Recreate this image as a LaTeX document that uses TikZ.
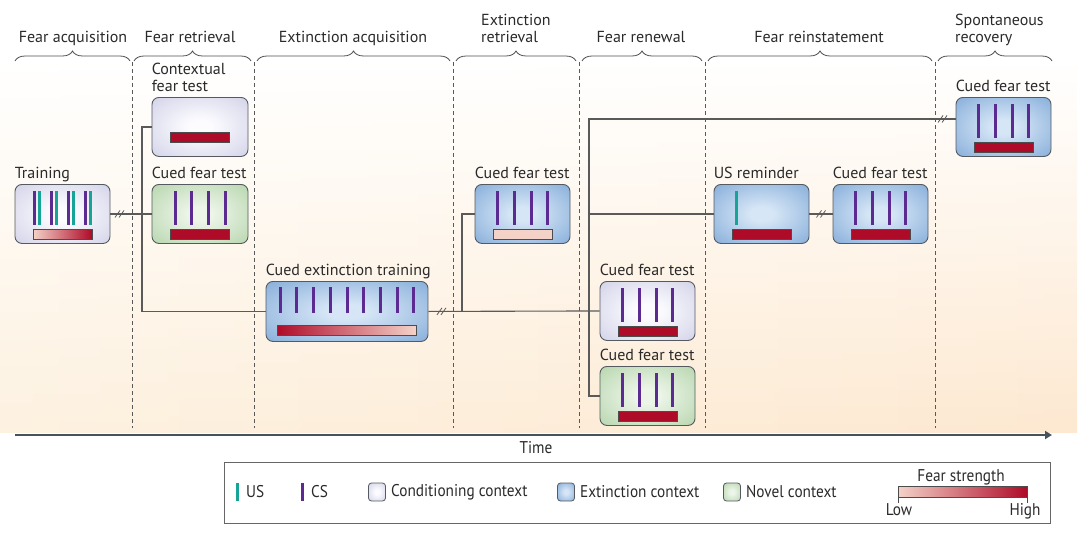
\documentclass[tikz,border=0pt]{standalone}
\usepackage{fontspec}
\setmainfont{PT Sans}
\newfontfamily\condfont[FakeStretch=0.9]{PT Sans}
\usetikzlibrary{calc,decorations.pathreplacing,fadings,arrows.meta}

\definecolor{condout}{HTML}{CDCDE6}
\definecolor{condin}{HTML}{FCFCFF}
\definecolor{extout}{HTML}{7CA6D6}
\definecolor{extin}{HTML}{D6E6F6}
\definecolor{novout}{HTML}{B0D2A6}
\definecolor{novin}{HTML}{EDF5E9}
\definecolor{cspurple}{HTML}{5B2B92}
\definecolor{usteal}{HTML}{17A497}
\definecolor{feardark}{HTML}{AE0B28}
\definecolor{fearlight}{HTML}{F4D2C8}
\definecolor{linegray}{HTML}{5A5A5A}
\definecolor{boxborder}{HTML}{555A60}
\definecolor{axisblue}{HTML}{46535E}
\definecolor{bgcream}{HTML}{FDF1E0}
\definecolor{bgmid}{HTML}{FFFCF8}
\definecolor{bgpeach}{HTML}{FDE8D0}
\definecolor{txt}{HTML}{2A2A2A}

\pgfdeclareradialshading{condsh}{\pgfpointorigin}{color(0bp)=(condin); color(6bp)=(condin); color(40bp)=(condout); color(100bp)=(condout)}
\pgfdeclareradialshading{extsh}{\pgfpointorigin}{color(0bp)=(extin); color(6bp)=(extin); color(40bp)=(extout); color(100bp)=(extout)}
\pgfdeclareradialshading{novsh}{\pgfpointorigin}{color(0bp)=(novin); color(6bp)=(novin); color(40bp)=(novout); color(100bp)=(novout)}

\tikzfading[name=fadetop, top color=transparent!100, middle color=transparent!25, bottom color=transparent!0]

\tikzset{
  ctxbox/.style={draw=boxborder, line width=0.9pt, rounded corners=7pt,
    minimum width=95pt, minimum height=59pt, anchor=north, inner sep=0pt, shade},
  cond/.style={ctxbox, shading=condsh},
  extc/.style={ctxbox, shading=extsh},
  novc/.style={ctxbox, shading=novsh},
  swatch/.style={draw=boxborder, line width=0.8pt, rounded corners=3pt,
    minimum width=17pt, minimum height=18pt, inner sep=0pt, shade},
  csline/.style={draw=cspurple, line width=3pt},
  usline/.style={draw=usteal, line width=3pt},
  fbar/.style={draw=black!70, line width=0.6pt},
  link/.style={draw=linegray, line width=1.1pt},
  lbl/.style={font=\fontsize{16}{17}\selectfont, text=txt, inner sep=0pt},
  leg/.style={font=\condfont\fontsize{17}{18}\selectfont, text=txt, inner sep=0pt},
  divider/.style={draw=black!65, line width=0.7pt, dash pattern=on 4pt off 3pt},
  bracestyle/.style={draw=black!70, line width=0.8pt,
    decorate, decoration={brace, amplitude=10pt, aspect=0.5}},
  brk/.pic={\draw[linegray, line width=0.8pt] (-4.5,3.5)--(0.5,-3.5) (-0.5,3.5)--(4.5,-3.5);}
}

% four CS stripes and fear bar relative to box north
\newcommand\fourcs[1]{%
  \foreach \dx in {-25,-8.5,8.5,25}
    \draw[csline] ($(#1.north)+(\dx,7)$) -- ($(#1.north)+(\dx,41)$);}
\newcommand\darkbar[1]{%
  \draw[fbar, fill=feardark] ($(#1.north)+(-29.5,45)$) rectangle ($(#1.north)+(29.5,55)$);}

\begin{document}
\begin{tikzpicture}[x=1pt,y=-1pt]
\useasboundingbox (0,0) rectangle (1080,546);

% background
\shade[left color=bgcream, middle color=bgmid, right color=bgpeach, path fading=fadetop]
  (0,58) rectangle (1080,432);

% dividers
\foreach \x in {132,254,453,579,705,935}
  \draw[divider] (\x,62) -- (\x,428);

% braces and phase labels
\draw[bracestyle] (15,61) -- (130,61);
\draw[bracestyle] (134,61) -- (251,61);
\draw[bracestyle] (257,61) -- (450,61);
\draw[bracestyle] (456,61) -- (576,61);
\draw[bracestyle] (582,61) -- (702,61);
\draw[bracestyle] (708,61) -- (932,61);
\draw[bracestyle] (938,61) -- (1052,61);

\node[lbl, anchor=base] (p1) at (73,42) {Fear acquisition};
\node[lbl, anchor=base] (p2) at (190,42) {Fear retrieval};
\node[lbl, anchor=base] (p3) at (353,42) {Extinction acquisition};
\node[lbl, anchor=base west, align=left] (p4) at (481,42) {Extinction\\retrieval};
\node[lbl, anchor=base] (p5) at (641,42) {Fear renewal};
\node[lbl, anchor=base] (p6) at (819,42) {Fear reinstatement};
\node[lbl, anchor=base west, align=left] (p7) at (955,42) {Spontaneous\\recovery};

% boxes
\node[cond] (train) at (62.5,184) {};
\node[cond, minimum width=96pt] (ctx) at (200,97) {};
\node[novc, minimum width=96pt] (rgreen) at (200,184) {};
\node[extc, minimum width=162pt, minimum height=60pt] (ext) at (347,281) {};
\node[extc] (eretr) at (522.5,184) {};
\node[cond] (rcond) at (647.5,281) {};
\node[novc] (rnov) at (647.5,366) {};
\node[extc] (usr) at (761.5,184) {};
\node[extc] (reins) at (880.5,184) {};
\node[extc] (spont) at (1003.5,97) {};

% box labels
\node[lbl, anchor=base west] (ltrain) at ($(train.north west)+(0,-6)$) {Training};
\node[lbl, anchor=base west, align=left] (lctx) at ($(ctx.north west)+(0,-6)$) {Contextual\\fear test};
\node[lbl, anchor=base west] (lrgreen) at ($(rgreen.north west)+(0,-6)$) {Cued fear test};
\node[lbl, anchor=base west] (lext) at ($(ext.north west)+(0,-6)$) {Cued extinction training};
\node[lbl, anchor=base west] (leretr) at ($(eretr.north west)+(0,-6)$) {Cued fear test};
\node[lbl, anchor=base west] (lrcond) at ($(rcond.north west)+(0,-6)$) {Cued fear test};
\node[lbl, anchor=base west] (lrnov) at ($(rnov.north west)+(0,-6)$) {Cued fear test};
\node[lbl, anchor=base west] (lusr) at ($(usr.north west)+(0,-6)$) {US reminder};
\node[lbl, anchor=base west] (lreins) at ($(reins.north west)+(0,-6)$) {Cued fear test};
\node[lbl, anchor=base west] (lspont) at ($(spont.north west)+(0,-6)$) {Cued fear test};

% box contents
\foreach \dx in {-28,-11,6,23}{
  \draw[csline] ($(train.north)+(\dx,7)$) -- ($(train.north)+(\dx,41)$);
  \draw[usline] ($(train.north)+(\dx+5,7)$) -- ($(train.north)+(\dx+5,41)$);}
\shade[fbar, left color=fearlight, right color=feardark]
  ($(train.north)+(-29.5,45)$) rectangle ($(train.north)+(29.5,55)$);

\draw[fbar, fill=feardark] ($(ctx.north)+(-29.5,35)$) rectangle ($(ctx.north)+(29.5,45)$);

\fourcs{rgreen}\darkbar{rgreen}

\foreach \i in {-4,...,4}
  \draw[csline] ($(ext.north)+(16.7*\i,6)$) -- ($(ext.north)+(16.7*\i,32)$);
\shade[fbar, left color=feardark, right color=fearlight]
  ($(ext.north)+(-70,44)$) rectangle ($(ext.north)+(69,54)$);

\fourcs{eretr}
\draw[fbar, fill=fearlight] ($(eretr.north)+(-29.5,45)$) rectangle ($(eretr.north)+(29.5,55)$);

\fourcs{rcond}\darkbar{rcond}
\fourcs{rnov}\darkbar{rnov}

\draw[usline] ($(usr.north)+(-25.5,7)$) -- ($(usr.north)+(-25.5,41)$);
\darkbar{usr}

\fourcs{reins}\darkbar{reins}
\fourcs{spont}\darkbar{spont}

% connectors
\coordinate (tA) at (142,0);
\coordinate (tB) at (462,0);
\coordinate (tC) at (589,0);
\coordinate (sin) at ($(spont.west)+(0,-8)$);

\draw[link] (train.east) -- (rgreen.west);
\draw[link] (ctx.west) -- (ctx.west -| tA) |- (ext.west);
\draw[link] (ext.east) -- (rcond.west);
\draw[link] (ext.east -| tB) |- (eretr.west);
\draw[link] (sin) -| (rnov.west -| tC) -- (rnov.west);
\draw[link] (usr.west -| tC) -- (usr.west);
\draw[link] (usr.east) -- (reins.west);

\coordinate (b1) at ($(train.east)!0.22!(rgreen.west)$);
\coordinate (b2) at ($(ext.east)!0.076!(rcond.west)$);
\coordinate (b3) at ($(usr.east)!0.5!(reins.west)$);
\coordinate (b4) at ($(sin)+(-13,0)$);
\foreach \b in {b1,b2,b3,b4} \pic at (\b) {brk};

% time axis
\coordinate (ax0) at (15,435);
\coordinate (ax1) at (1052,435);
\draw[axisblue, line width=2.6pt, -{Triangle[length=7pt,width=8pt]}] (ax0) -- (ax1);
\node[leg, anchor=base] (timelbl) at (536,453) {Time};

% legend
\node[draw=black!60, line width=0.8pt, minimum width=826pt, minimum height=61pt,
  anchor=north west, inner sep=0pt] (legend) at (224,462) {};
\coordinate (lus) at (237,492);
\coordinate (lcs) at (302,492);
\draw[usline] ($(lus)+(0,-9)$) -- ($(lus)+(0,9)$);
\node[leg, anchor=west] (tus) at ($(lus)+(9,0)$) {US};
\draw[csline] ($(lcs)+(0,-9)$) -- ($(lcs)+(0,9)$);
\node[leg, anchor=west] (tcs) at ($(lcs)+(9,0)$) {CS};
\node[swatch, shading=condsh] (scond) at (377,492) {};
\node[leg, anchor=west] (tcond) at ($(scond.east)+(5,0)$) {Conditioning context};
\node[swatch, shading=extsh] (sext) at (566,492) {};
\node[leg, anchor=west] (text) at ($(sext.east)+(5,0)$) {Extinction context};
\node[swatch, shading=novsh] (snov) at (732,492) {};
\node[leg, anchor=west] (tnov) at ($(snov.east)+(5,0)$) {Novel context};

\node[leg, anchor=base] (tfs) at (961,481) {Fear strength};
\shade[fbar, left color=fearlight, right color=feardark] (898,486) rectangle (1027,497);
\draw[black!70, line width=0.6pt] (898,497) -- (898,503) (1027,497) -- (1027,503);
\node[leg, anchor=base] (tlow) at (899,515) {Low};
\node[leg, anchor=base] (thigh) at (1025,515) {High};
\end{tikzpicture}
\end{document}
